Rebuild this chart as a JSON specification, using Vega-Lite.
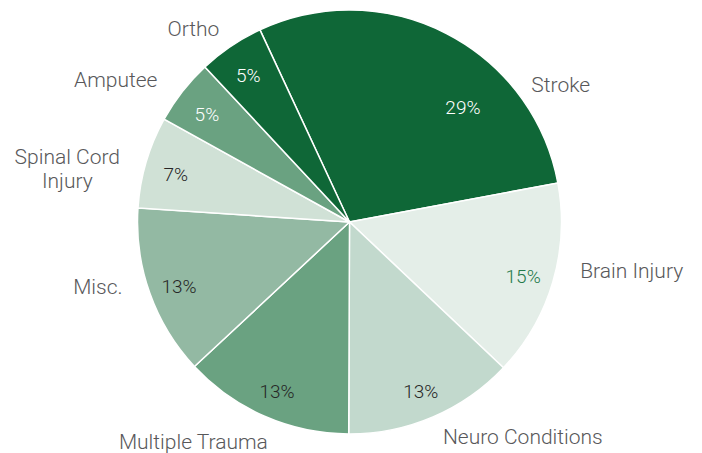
{
  "$schema": "https://vega.github.io/schema/vega-lite/v6.json",
  "width": 699,
  "height": 444,
  "autosize": {"type": "none"},
  "padding": {"left": 0, "top": 0, "right": 3, "bottom": 9},
  "background": "white",
  "config": {"view": {"stroke": null}, "text": {"font": "Roboto", "fontSize": 19, "fontWeight": 300}},
  "data": {"values": [
    {"i": 1, "cat": "Stroke", "v": 0.29},
    {"i": 2, "cat": "Brain Injury", "v": 0.15},
    {"i": 3, "cat": "Neuro Conditions", "v": 0.13},
    {"i": 4, "cat": "Multiple Trauma", "v": 0.13},
    {"i": 5, "cat": "Misc.", "v": 0.13},
    {"i": 6, "cat": "Spinal Cord\nInjury", "v": 0.07},
    {"i": 7, "cat": "Amputee", "v": 0.05},
    {"i": 8, "cat": "Ortho", "v": 0.05}
  ]},
  "encoding": {
    "theta": {"field": "v", "type": "quantitative", "stack": true, "scale": {"domain": [0, 1], "range": [-0.436, 5.847]}},
    "order": {"field": "i", "type": "quantitative"}
  },
  "layer": [
    {
      "mark": {"type": "arc", "outerRadius": 212, "stroke": "white", "strokeWidth": 1.5},
      "encoding": {
        "color": {"field": "i", "type": "nominal", "legend": null,
          "scale": {"domain": [1,2,3,4,5,6,7,8], "range": ["#0f6737", "#e4eee8", "#c2d9cd", "#6aa281", "#93b9a3", "#d0e1d6", "#6aa281", "#0f6737"]}}
      }
    },
    {
      "mark": {"type": "text", "radius": 181, "align": "center", "baseline": "middle", "dy": 4},
      "encoding": {
        "text": {"condition": {"test": "datum.i !== 1", "field": "v", "format": ".0%"}, "value": ""},
        "color": {"condition": [{"test": "datum.i >= 7", "value": "white"}, {"test": "datum.i === 2", "value": "#23794a"}], "value": "#262626"}
      }
    },
    {
      "mark": {"type": "text", "radius": 178, "align": "center", "baseline": "middle", "dx": 32, "dy": 44, "color": "white"},
      "encoding": {"text": {"condition": {"test": "datum.i === 1", "field": "v", "format": ".0%"}, "value": ""}}
    },
    {
      "mark": {"type": "text", "radius": 265, "align": "center", "baseline": "middle", "dx": 90, "dy": 100, "fontSize": 21, "color": "#58585a"},
      "encoding": {"text": {"condition": {"test": "datum.i === 1", "field": "cat"}, "value": ""}}
    },
    {
      "mark": {"type": "text", "radius": 265, "align": "center", "baseline": "middle", "dx": 28, "dy": -25, "fontSize": 21, "color": "#58585a"},
      "encoding": {"text": {"condition": {"test": "datum.i === 2", "field": "cat"}, "value": ""}}
    },
    {
      "mark": {"type": "text", "radius": 265, "align": "center", "baseline": "middle", "dx": 69, "dy": -28, "fontSize": 21, "color": "#58585a"},
      "encoding": {"text": {"condition": {"test": "datum.i === 3", "field": "cat"}, "value": ""}}
    },
    {
      "mark": {"type": "text", "radius": 265, "align": "center", "baseline": "middle", "dx": -50, "dy": -22, "fontSize": 21, "color": "#58585a"},
      "encoding": {"text": {"condition": {"test": "datum.i === 4", "field": "cat"}, "value": ""}}
    },
    {
      "mark": {"type": "text", "radius": 265, "align": "center", "baseline": "middle", "dx": -2, "dy": -23, "fontSize": 21, "color": "#58585a"},
      "encoding": {"text": {"condition": {"test": "datum.i === 5", "field": "cat"}, "value": ""}}
    },
    {
      "mark": {"type": "text", "radius": 265, "align": "center", "baseline": "middle", "dx": -28, "dy": 11, "fontSize": 21, "lineBreak": "\n", "lineHeight": 24, "color": "#58585a"},
      "encoding": {"text": {"condition": {"test": "datum.i === 6", "field": "cat"}, "value": ""}}
    },
    {
      "mark": {"type": "text", "radius": 265, "align": "center", "baseline": "middle", "dx": -25, "dy": 22, "fontSize": 21, "color": "#58585a"},
      "encoding": {"text": {"condition": {"test": "datum.i === 7", "field": "cat"}, "value": ""}}
    },
    {
      "mark": {"type": "text", "radius": 265, "align": "center", "baseline": "middle", "dx": -8, "dy": 28, "fontSize": 21, "color": "#58585a"},
      "encoding": {"text": {"condition": {"test": "datum.i === 8", "field": "cat"}, "value": ""}}
    }
  ]
}
